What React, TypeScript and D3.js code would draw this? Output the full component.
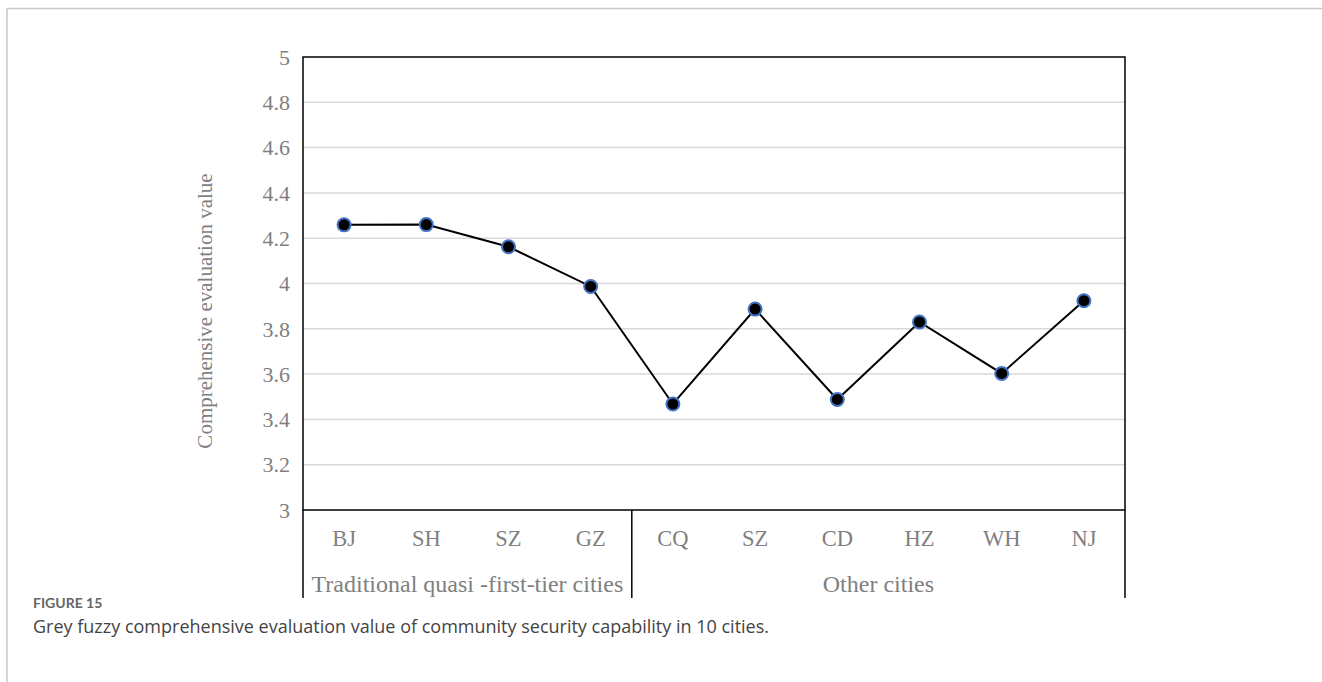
import React from "react";
import * as d3 from "d3";

// City codes along the category axis
const cities = ["BJ", "SH", "SZ", "GZ", "CQ", "SZ", "CD", "HZ", "WH", "NJ"];
// Grey fuzzy comprehensive evaluation values
const values = [4.259, 4.26, 4.162, 3.987, 3.468, 3.887, 3.488, 3.83, 3.603, 3.924];
// Category groups: label and number of cities in each
const groupLabels = ["Traditional quasi -first-tier cities", "Other cities"];
const groupSizes = [4, 6];
// Y axis ticks
const yTicks = [3, 3.2, 3.4, 3.6, 3.8, 4, 4.2, 4.4, 4.6, 4.8, 5];

const W = 1322;
const H = 682;
const plot = { left: 303, right: 1125, top: 57, bottom: 510 };
const catBottom = 598;

export default function App() {
  const x = d3
    .scaleBand<number>()
    .domain(d3.range(cities.length))
    .range([plot.left, plot.right])
    .padding(0);
  const y = d3.scaleLinear().domain([3, 5]).range([plot.bottom, plot.top]);

  const line = d3
    .line<number>()
    .x((_, i) => (x(i) as number) + x.bandwidth() / 2)
    .y((d) => y(d));

  const serif = "'Liberation Serif', 'Times New Roman', serif";
  const grey = "#7f7f7f";

  // group boundaries
  const groupStarts: number[] = [];
  let acc = 0;
  groupSizes.forEach((s) => {
    groupStarts.push(acc);
    acc += s;
  });

  return (
    <svg
      width={W}
      height={H}
      style={{ position: "absolute", left: 0, top: 0, background: "#fff" }}
    >
      {/* card frame */}
      <line x1={7} x2={W} y1={8.5} y2={8.5} stroke="#c8c8c8" strokeWidth={1.5} />
      <line x1={7} x2={7} y1={8} y2={H} stroke="#c8c8c8" strokeWidth={1.5} />

      {/* gridlines */}
      {yTicks.slice(1, -1).map((t) => (
        <line
          key={t}
          x1={plot.left}
          x2={plot.right}
          y1={y(t)}
          y2={y(t)}
          stroke="#d9d9d9"
          strokeWidth={1.5}
        />
      ))}

      {/* plot frame */}
      <rect
        x={plot.left}
        y={plot.top}
        width={plot.right - plot.left}
        height={plot.bottom - plot.top}
        fill="none"
        stroke="#000"
        strokeWidth={1.5}
      />

      {/* category area lines */}
      <line x1={plot.left} x2={plot.left} y1={plot.bottom} y2={catBottom} stroke="#000" strokeWidth={1.5} />
      <line x1={plot.right} x2={plot.right} y1={plot.bottom} y2={catBottom} stroke="#000" strokeWidth={1.5} />
      {groupStarts.slice(1).map((s) => (
        <line
          key={s}
          x1={x(s) as number}
          x2={x(s) as number}
          y1={plot.bottom}
          y2={catBottom}
          stroke="#000"
          strokeWidth={1.5}
        />
      ))}

      {/* y tick labels */}
      {yTicks.map((t) => (
        <text
          key={t}
          x={290}
          y={y(t)}
          dy="0.35em"
          textAnchor="end"
          fontFamily={serif}
          fontSize={22}
          fill={grey}
        >
          {d3.format("~g")(t)}
        </text>
      ))}

      {/* y axis title */}
      <text
        transform={`translate(212, 311) rotate(-90)`}
        textAnchor="middle"
        fontFamily={serif}
        fontSize={21}
        fill={grey}
      >
        Comprehensive evaluation value
      </text>

      {/* category labels */}
      {cities.map((c, i) => (
        <text
          key={i}
          x={(x(i) as number) + x.bandwidth() / 2}
          y={546}
          textAnchor="middle"
          fontFamily={serif}
          fontSize={22.5}
          fill={grey}
        >
          {c}
        </text>
      ))}

      {/* group labels */}
      {groupLabels.map((g, gi) => {
        const start = x(groupStarts[gi]) as number;
        const end = start + groupSizes[gi] * x.bandwidth();
        return (
          <text
            key={g}
            x={(start + end) / 2}
            y={592}
            textAnchor="middle"
            fontFamily={serif}
            fontSize={24}
            fill={grey}
          >
            {g}
          </text>
        );
      })}

      {/* series line */}
      <path d={line(values) || ""} fill="none" stroke="#000" strokeWidth={2} />
      {values.map((v, i) => (
        <circle
          key={i}
          cx={(x(i) as number) + x.bandwidth() / 2}
          cy={y(v)}
          r={6.5}
          fill="#000"
          stroke="#4472c4"
          strokeWidth={2}
        />
      ))}

      {/* caption */}
      <text x={33} y={608} fontFamily="Lato, 'Open Sans', sans-serif" fontSize={14} fontWeight={700} fill="#666">
        FIGURE 15
      </text>
      <text x={33} y={633} fontFamily="'Open Sans', 'Noto Sans', sans-serif" fontSize={18} fill="#444">
        Grey fuzzy comprehensive evaluation value of community security capability in 10 cities.
      </text>
    </svg>
  );
}
